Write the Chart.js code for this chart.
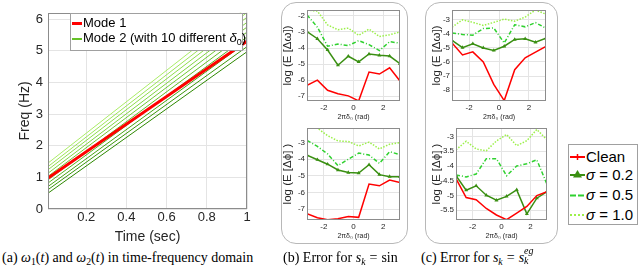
<!DOCTYPE html>
<html><head><meta charset="utf-8">
<script src="https://cdn.jsdelivr.net/npm/chart.js@4.4.0/dist/chart.umd.min.js"></script>
<style>
html,body{margin:0;padding:0;background:#fff;width:640px;height:268px;overflow:hidden;position:relative;font-family:'Liberation Sans',Arial,Helvetica,sans-serif;}
canvas{position:absolute;}
.pbox{position:absolute;border:1.5px solid #b8b8b8;border-radius:15px;box-sizing:border-box;}
.leg{position:absolute;background:#fff;border:1px solid #a0a0a0;box-sizing:border-box;}
.lt{position:absolute;white-space:nowrap;color:#000;}
.cap{position:absolute;font-family:'Liberation Serif','Times New Roman',Times,serif;font-size:14px;white-space:nowrap;color:#000;line-height:16px;}
.cap sub{font-size:70%;vertical-align:-3px;line-height:0;}
.eq{margin:0 4px;}
.ss{position:relative;display:inline-block;width:13px;height:10px;font-size:10px;font-style:italic;}
.ss span{position:absolute;left:0;line-height:10px;}
</style></head><body>
<div class="pbox" style="left:281px;top:2px;width:127px;height:242px"></div>
<div class="pbox" style="left:425px;top:2px;width:133px;height:242px"></div>
<canvas id="ca" width="255" height="246" style="left:0;top:0"></canvas>
<canvas id="cb1" width="127" height="121" style="left:281px;top:0"></canvas>
<canvas id="cb2" width="127" height="122" style="left:281px;top:118px"></canvas>
<canvas id="cc1" width="129" height="121" style="left:425px;top:0"></canvas>
<canvas id="cc2" width="130" height="122" style="left:425px;top:118px"></canvas>

<div class="leg" style="left:70px;top:13px;width:173px;height:38px"></div>
<div style="position:absolute;left:72px;top:22px;width:10px;height:3px;background:#ff0000"></div>
<div class="lt" style="left:83px;top:15px;font-size:13px;line-height:16px">Mode 1</div>
<div style="position:absolute;left:72px;top:38px;width:10px;height:2px;background:#66c228"></div>
<div class="lt" style="left:83px;top:30px;font-size:13px;line-height:16px">Mode 2 (with 10 different <i>δ</i><sub style="font-size:9px;vertical-align:-3px;line-height:0">0</sub>)</div>

<div class="leg" style="left:568px;top:144px;width:70px;height:81px"></div>
<svg style="position:absolute;left:569px;top:150px" width="18" height="72">
  <line x1="1" y1="7" x2="16" y2="7" stroke="#ff0000" stroke-width="2"/>
  <line x1="8.5" y1="4" x2="8.5" y2="10" stroke="#ff0000" stroke-width="1.5"/>
  <line x1="1" y1="25" x2="16" y2="25" stroke="#3a8f12" stroke-width="2"/>
  <polygon points="8.5,20 13,27.5 4,27.5" fill="#3a8f12"/>
  <line x1="1" y1="45.5" x2="16" y2="45.5" stroke="#2fd12f" stroke-width="2.2" stroke-dasharray="6,2"/>
  <line x1="1" y1="65" x2="16" y2="65" stroke="#9cf04a" stroke-width="2.2" stroke-dasharray="2,2"/>
</svg>
<div class="lt" style="left:586px;top:148px;font-size:15px;line-height:18px">Clean</div>
<div class="lt" style="left:586px;top:166px;font-size:15px;line-height:18px"><i>σ</i> = 0.2</div>
<div class="lt" style="left:586px;top:186px;font-size:15px;line-height:18px"><i>σ</i> = 0.5</div>
<div class="lt" style="left:586px;top:206px;font-size:15px;line-height:18px"><i>σ</i> = 1.0</div>

<div class="cap" style="left:2px;top:250px">(a) <i>ω</i><sub>1</sub>(<i>t</i>) and <i>ω</i><sub>2</sub>(<i>t</i>) in time-frequency domain</div>
<div class="cap" style="left:283px;top:250px">(b) Error for <i>s<sub>k</sub></i><span class="eq">=</span>sin</div>
<div class="cap" style="left:421px;top:250px">(c) Error for <i>s<sub>k</sub></i><span class="eq">=</span><i>s</i><span class="ss"><span style="top:-6px">eg</span><span style="top:4px">k</span></span></div>

<script>
// ---------- Panel (a): time-frequency lines ----------
const timeRange = [0.01, 1.0];
const mode1Freq = [0.98, 5.30];
const mode2Start = [0.50, 0.61, 0.71, 0.82, 0.92, 1.03, 1.13, 1.24, 1.34, 1.45];
const mode2End   = [4.97, 5.13, 5.28, 5.44, 5.59, 5.75, 5.90, 6.06, 6.21, 6.37];
const timeTicks = [0.2, 0.4, 0.6, 0.8, 1];
const freqTicks = [0, 1, 2, 3, 4, 5, 6];

// ---------- Panels (b),(c): error vs 2*pi*delta0 ----------
const delta = [-3.14, -2.44, -1.75, -1.05, -0.35, 0.35, 1.05, 1.75, 2.44, 3.14];
const deltaTicks = [-2, 0, 2];

const bOmegaClean = [-6.32, -6.00, -6.63, -6.85, -6.98, -7.29, -5.50, -5.62, -5.23, -6.05];
const bOmegaS02   = [-2.97, -3.42, -4.12, -5.07, -4.51, -4.86, -4.37, -4.45, -4.50, -4.98];
const bOmegaS05   = [-1.94, -2.70, -3.89, -3.75, -3.85, -3.54, -3.79, -4.16, -3.60, -3.70];
const bOmegaS10   = [-1.63, -1.70, -2.56, -2.86, -2.76, -3.21, -2.82, -3.28, -3.17, -3.00];
const bOmegaTicks = [-7, -6, -5, -4, -3, -2];

const bPhiClean = [-7.28, -7.52, -7.64, -7.59, -7.45, -7.50, -5.50, -5.60, -5.25, -5.40];
const bPhiS02   = [-3.75, -4.03, -4.30, -4.65, -4.80, -4.83, -4.33, -4.93, -5.05, -5.05];
const bPhiS05   = [-2.87, -3.23, -3.68, -4.38, -4.00, -3.63, -3.75, -4.25, -3.55, -3.72];
const bPhiS10   = [-2.12, -2.13, -2.58, -2.90, -2.93, -3.20, -2.97, -3.38, -3.10, -3.00];
const bPhiTicks = [-7, -6, -5, -4, -3];

const cOmegaClean = [-4.65, -5.50, -5.28, -6.00, -7.60, -8.75, -6.55, -5.70, -5.30, -4.90];
const cOmegaS02   = [-4.47, -4.98, -4.70, -5.00, -5.18, -4.88, -4.40, -4.35, -4.60, -4.30];
const cOmegaS05   = [-3.93, -4.05, -4.09, -3.62, -3.58, -4.65, -3.35, -3.50, -3.20, -3.60];
const cOmegaS10   = [-3.52, -3.00, -3.18, -3.40, -3.18, -2.95, -3.10, -2.80, -2.30, -2.60];
const cOmegaTicks = [-8, -7, -6, -5, -4, -3];

const cPhiClean = [-4.43, -5.07, -5.14, -5.44, -5.66, -5.82, -5.60, -5.37, -5.00, -4.87];
const cPhiS02   = [-4.33, -4.82, -4.67, -4.99, -5.16, -5.03, -4.81, -5.62, -5.09, -4.87];
const cPhiS05   = [-4.30, -4.37, -4.27, -3.75, -3.75, -4.33, -4.00, -3.92, -3.79, -4.62];
const cPhiS10   = [-3.45, -3.16, -3.42, -3.48, -3.15, -2.93, -3.31, -3.14, -2.76, -3.11];
const cPhiTicks = [-5.5, -5, -4.5, -4, -3.5, -3];

// ---------- styling ----------
const FONT = "'Liberation Sans', Arial, Helvetica, sans-serif";
Chart.defaults.font.family = FONT;
const AXC = '#262626', GRID = '#e4e4e4', BOXC = '#8c8c8c';
const greenShades = ['#2e8800','#3a960a','#47a414','#55b11e','#63bd28','#71c834','#80d340','#8edc4c','#9ce458','#aaec66'];

const boxPlugin = {id:'mbox', afterDatasetsDraw(chart){
  const a = chart.chartArea, c = chart.ctx;
  c.save(); c.strokeStyle = BOXC; c.lineWidth = 1;
  c.strokeRect(Math.round(a.left)+0.5, Math.round(a.top)+0.5, Math.round(a.right)-Math.round(a.left)-1, Math.round(a.bottom)-Math.round(a.top)-1);
  c.restore();
}};

function mk(id, datasets, o){
  return new Chart(document.getElementById(id), {
    type: 'line',
    data: {datasets},
    options: {
      responsive: false, animation: false, devicePixelRatio: 1,
      layout: {padding: {left: 0, top: o.pt, right: o.pr, bottom: 0}},
      plugins: {legend: {display: false}, tooltip: {enabled: false}},
      elements: {line: {tension: 0}},
      scales: {
        x: {type: 'linear', min: o.xmin, max: o.xmax,
          afterBuildTicks: s => { s.ticks = o.xt.map(v => ({value: v})); },
          afterFit: s => { s.height = o.xh; },
          grid: {color: GRID, drawTicks: false},
          border: {display: false},
          ticks: {autoSkip: false, maxRotation: 0, padding: o.xtp, color: AXC, font: {size: o.tf}, callback: v => String(v)},
          title: {display: true, text: o.xtitle, color: AXC, font: {size: o.xtf}, padding: {top: 0, bottom: o.xtpb}}
        },
        y: {type: 'linear', min: o.ymin, max: o.ymax,
          afterBuildTicks: s => { s.ticks = o.yt.map(v => ({value: v})); },
          afterFit: s => { s.width = o.yw; },
          grid: {color: GRID, drawTicks: false},
          border: {display: false},
          ticks: {autoSkip: false, padding: o.ytp, color: AXC, font: {size: o.tf}, callback: v => String(v)},
          title: {display: true, text: o.ytitle, color: AXC, font: {size: o.ytf}, padding: {top: o.ytpt, bottom: 0}}
        }
      }
    },
    plugins: [boxPlugin]
  });
}

// Panel (a)
const dsA = [{data: [{x: timeRange[0], y: mode1Freq[0]}, {x: timeRange[1], y: mode1Freq[1]}],
  borderColor: '#ff0000', borderWidth: 3, pointRadius: 0}];
mode2Start.forEach((s, i) => dsA.push({
  data: [{x: timeRange[0], y: s}, {x: timeRange[1], y: mode2End[i]}],
  borderColor: greenShades[i], borderWidth: 1, pointRadius: 0}));
mk('ca', dsA, {pt: 11, pr: 8, xmin: 0.01, xmax: 1, xt: timeTicks, xh: 37, xtp: 1, tf: 13,
  xtitle: 'Time (sec)', xtf: 14, xtpb: 0,
  ymin: 0, ymax: 6.2, yt: freqTicks, yw: 48, ytp: 5, ytitle: 'Freq (Hz)', ytf: 14, ytpt: 16.6});

// Panels (b),(c)
const stClean = {borderColor: '#ff0000', borderWidth: 1.5, pointRadius: 0};
const stS02 = {borderColor: '#3a8f12', backgroundColor: '#3a8f12', borderWidth: 1.5, pointStyle: 'triangle', pointRadius: 2.3, pointBorderWidth: 0};
const stS05 = {borderColor: '#2fd12f', borderWidth: 1.5, borderDash: [4, 2, 1, 2], pointRadius: 0};
const stS10 = {borderColor: '#9cf04a', borderWidth: 1.5, borderDash: [1.5, 1.5], pointRadius: 0};
function series(vals, st){ return Object.assign({data: delta.map((d, i) => ({x: d, y: vals[i]}))}, st); }
function four(cl, a, b, c){ return [series(cl, stClean), series(a, stS02), series(b, stS05), series(c, stS10)]; }

const common = {pr: 8, xmin: -3.1416, xmax: 3.1416, xt: deltaTicks, xh: 20, xtp: 2, tf: 8,
  xtitle: '2πδ₀ (rad)', xtf: 7, xtpb: 0, ytp: 2, ytf: 11.5};

mk('cb1', four(bOmegaClean, bOmegaS02, bOmegaS05, bOmegaS10), Object.assign({}, common,
  {pt: 10, ymin: -7.3, ymax: -1.63, yt: bOmegaTicks, yw: 26, ytitle: 'log (E [Δω])', ytpt: 0}));
mk('cb2', four(bPhiClean, bPhiS02, bPhiS05, bPhiS10), Object.assign({}, common,
  {pt: 10, ymin: -7.66, ymax: -2.12, yt: bPhiTicks, yw: 26, ytitle: 'log (E [Δϕ] )', ytpt: 0}));
mk('cc1', four(cOmegaClean, cOmegaS02, cOmegaS05, cOmegaS10), Object.assign({}, common,
  {pt: 10, ymin: -8.78, ymax: -2.3, yt: cOmegaTicks, yw: 27, ytitle: 'log (E [Δω])', ytpt: 5}));
mk('cc2', four(cPhiClean, cPhiS02, cPhiS05, cPhiS10), Object.assign({}, common,
  {pt: 10, ymin: -5.83, ymax: -2.71, yt: cPhiTicks, yw: 31, ytitle: 'log (E [Δϕ] )', ytpt: 5}));
</script>
</body></html>
